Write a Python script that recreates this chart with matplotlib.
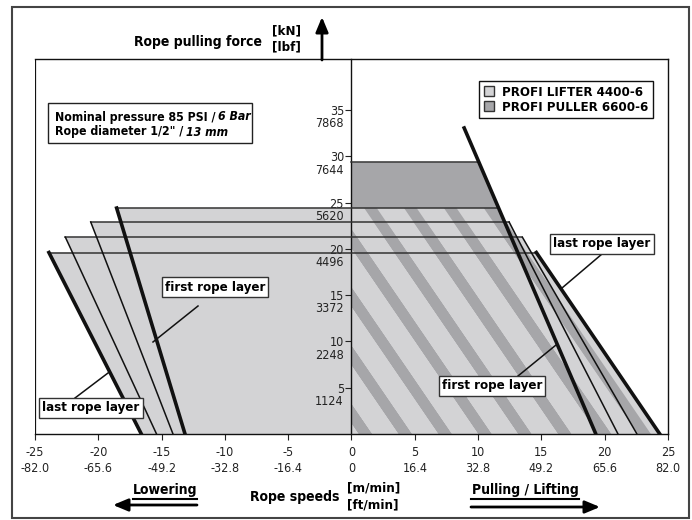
import numpy as np
import matplotlib
matplotlib.use('Agg')
import matplotlib.pyplot as plt
from matplotlib.patches import Polygon, Rectangle, Patch

plt.rcParams['font.family'] = ['DejaVu Sans']
plt.rcParams['font.stretch'] = 'condensed'

# rope layers (first .. last), force in kN, speeds in m/min
layer_force = [24.4, 22.9, 21.25, 19.6]
lower_top_speed = [-18.55, -20.6, -22.6, -23.9]
lower_zero_speed = [-13.15, -14.1, -15.4, -16.6]
lift_top_speed = [11.6, 12.45, 13.5, 14.6]
lift_zero_speed = [19.3, 21.05, 22.55, 24.35]

# PROFI PULLER 6600-6
puller_force = 29.35
puller_top_speed = 10.05
puller_line_speed = [8.9, 19.3]
puller_line_force = [33.05, 0]

speed_m = [-25, -20, -15, -10, -5, 0, 5, 10, 15, 20, 25]
speed_ft = ['-82.0', '-65.6', '-49.2', '-32.8', '-16.4', '0', '16.4', '32.8', '49.2', '65.6', '82.0']
force_kn = [5, 10, 15, 20, 25, 30, 35]
force_lbf = ['1124', '2248', '3372', '4496', '5620', '7644', '7868']

LIGHT = '#d3d3d5'
DARK = '#a6a6a9'
EDGE = '#333333'
W, H = 692, 520

fig = plt.figure(figsize=(W / 100, H / 100), dpi=100)
ax = fig.add_axes([35 / W, 1 - 434 / H, 633 / W, 375 / H])
ax.set_xlim(-25, 25)
ax.set_ylim(0, 40.5)

# light gray areas, one per rope layer
for i in range(len(layer_force)):
    pts = [(lower_top_speed[i], layer_force[i]), (lower_zero_speed[i], 0),
           (lift_zero_speed[i], 0), (lift_top_speed[i], layer_force[i])]
    ax.add_patch(Polygon(pts, closed=True, facecolor=LIGHT, edgecolor='none', zorder=1))

# puller area
ax.add_patch(Polygon([(0, layer_force[0]), (0, puller_force), (puller_top_speed, puller_force),
                      (lift_top_speed[0], layer_force[0])],
                     closed=True, facecolor=DARK, edgecolor='none', zorder=1))

# diagonal stripes on the lifting side
stripe_pos = 1.5 + 3.15 * np.arange(-10, 9)
for i in range(len(layer_force)):
    clip = Polygon([(0, 0), (lift_zero_speed[i], 0), (lift_top_speed[i], layer_force[i]),
                    (0, layer_force[i])], closed=True, facecolor='none', edgecolor='none')
    ax.add_patch(clip)
    for c in stripe_pos:
        ys = np.array([-2, 27])
        xs = c + 0.5 * (layer_force[0] - ys)
        ln, = ax.plot(xs, ys, color=DARK, lw=7.5, solid_capstyle='butt', zorder=2)
        ln.set_clip_path(clip)

# outlines
for i in range(len(layer_force)):
    thick = 2.6 if i in (0, 3) else 1.1
    ax.plot([lower_top_speed[i], lift_top_speed[i]], [layer_force[i]] * 2, color=EDGE, lw=1.1, zorder=3)
    ax.plot([lower_top_speed[i], lower_zero_speed[i]], [layer_force[i], 0], color='#111111', lw=thick, zorder=4)
    if i > 0:
        ax.plot([lift_top_speed[i], lift_zero_speed[i]], [layer_force[i], 0], color='#111111', lw=thick, zorder=4)
ax.plot([0, puller_top_speed], [puller_force] * 2, color=EDGE, lw=1.1, zorder=3)
ax.plot(puller_line_speed, puller_line_force, color='#111111', lw=2.6, zorder=4)

# axes
for s in ax.spines.values():
    s.set_color('#111111')
    s.set_linewidth(1.0)
ax.spines['left'].set_position(('data', 0))
ax.axvline(-25, color='#111111', lw=1.6)
ax.set_xticks(speed_m)
ax.set_xticklabels([f'{m}\n{f}' for m, f in zip(speed_m, speed_ft)])
ax.tick_params(axis='x', direction='out', length=4, width=0.8, pad=5, labelsize=9, colors='#222222')
ax.set_yticks(force_kn)
ax.set_yticklabels([str(v) for v in force_kn])
ax.tick_params(axis='y', direction='out', length=4, width=0.8, pad=1.5, labelsize=9, colors='#222222')
for v, lb in zip(force_kn, force_lbf):
    ax.annotate(lb, xy=(0, v), xytext=(-5.5, -10), textcoords='offset points',
                ha='right', va='center', fontsize=9, color='#222222')

leg = ax.legend(handles=[Patch(facecolor=LIGHT, edgecolor=EDGE, label='PROFI LIFTER 4400-6'),
                         Patch(facecolor=DARK, edgecolor=EDGE, label='PROFI PULLER 6600-6')],
                loc='upper right', bbox_to_anchor=((653 - 35) / 633, (434 - 81) / 375),
                borderaxespad=0, fancybox=False, framealpha=1, edgecolor='#111111',
                borderpad=0.35, handlelength=0.8, handleheight=0.8, handletextpad=0.6,
                labelspacing=0.15, prop={'weight': 'bold', 'size': 9.5, 'stretch': 'condensed'})
leg.get_frame().set_linewidth(1.0)

# overlay in pixel units for frame and labels
ov = fig.add_axes([0, 0, 1, 1], zorder=5)
ov.set_xlim(0, W)
ov.set_ylim(H, 0)
ov.axis('off')
ov.patch.set_alpha(0)
ov.add_patch(Rectangle((12, 7), 677, 511, fill=False, edgecolor='#444444', lw=1.5))

ov.text(262, 42, 'Rope pulling force', ha='right', va='center', weight='bold', fontsize=10)
ov.text(272, 31, '[kN]', ha='left', va='center', weight='bold', fontsize=9.5)
ov.text(272, 47, '[lbf]', ha='left', va='center', weight='bold', fontsize=9.5)
ov.annotate('', xy=(322, 17), xytext=(322, 60),
            arrowprops=dict(arrowstyle='-|>,head_width=0.25,head_length=0.6', lw=2, color='k',
                            shrinkA=0, shrinkB=0, mutation_scale=15))

ov.add_patch(Rectangle((48, 103), 204, 40, facecolor='white', edgecolor='#222222', lw=1))
t1 = ov.text(55, 117, 'Nominal pressure 85 PSI /', ha='left', va='center', weight='bold', fontsize=8.8)
ov.annotate('6 Bar', xy=(1, 0.5), xycoords=t1, xytext=(2, 0), textcoords='offset points',
            ha='left', va='center', weight='bold', style='italic', fontsize=8.8)
t2 = ov.text(55, 132, 'Rope diameter 1/2" /', ha='left', va='center', weight='bold', fontsize=8.8)
ov.annotate('13 mm', xy=(1, 0.5), xycoords=t2, xytext=(2, 0), textcoords='offset points',
            ha='left', va='center', weight='bold', style='italic', fontsize=8.8)

box = dict(boxstyle='square,pad=0.25', fc='white', ec='#333333', lw=1)
for (x, y, s) in [(215, 287, 'first rope layer'), (91, 408, 'last rope layer'),
                  (602, 244, 'last rope layer'), (492, 386, 'first rope layer')]:
    ov.text(x, y, s, ha='center', va='center', weight='bold', fontsize=9.5, bbox=box)
for (xa, ya, xb, yb) in [(198, 306, 153, 342), (75, 398, 108, 373),
                         (602, 254, 562, 288), (518, 376, 556, 345)]:
    ov.plot([xa, xb], [ya, yb], color='#111111', lw=1.1)

# bottom labels
ov.text(165, 490, 'Lowering', ha='center', va='center', weight='bold', fontsize=10)
ov.plot([133, 197], [499, 499], color='k', lw=1.5)
ov.annotate('', xy=(113, 505), xytext=(197, 505),
            arrowprops=dict(arrowstyle='-|>,head_width=0.25,head_length=0.6', lw=2, color='k',
                            shrinkA=0, shrinkB=0, mutation_scale=15))
ov.text(340, 497, 'Rope speeds', ha='right', va='center', weight='bold', fontsize=10)
ov.text(347, 488, '[m/min]', ha='left', va='center', weight='bold', fontsize=9.5)
ov.text(347, 505, '[ft/min]', ha='left', va='center', weight='bold', fontsize=9.5)
ov.text(525, 490, 'Pulling / Lifting', ha='center', va='center', weight='bold', fontsize=10)
ov.plot([471, 579], [499, 499], color='k', lw=1.5)
ov.annotate('', xy=(600, 507), xytext=(471, 507),
            arrowprops=dict(arrowstyle='-|>,head_width=0.25,head_length=0.6', lw=2, color='k',
                            shrinkA=0, shrinkB=0, mutation_scale=15))

fig.savefig('out.png', dpi=100)
